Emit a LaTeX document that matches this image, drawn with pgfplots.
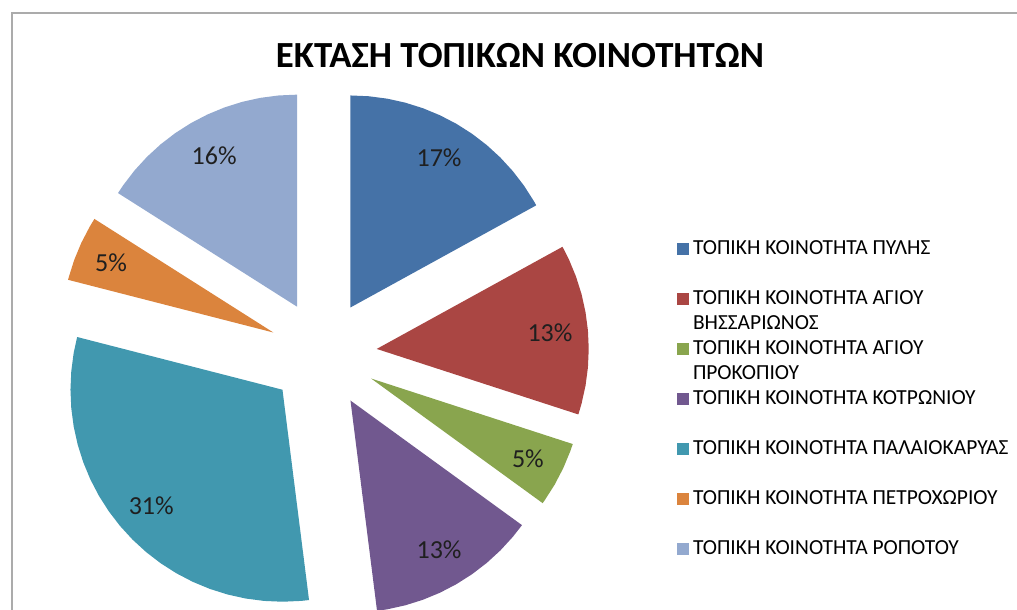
\documentclass[border=0pt]{standalone}
\usepackage{pgfplots}
\pgfplotsset{compat=1.18}
\usepackage{fontspec}
\setmainfont{Carlito}
\definecolor{c1}{HTML}{4572A7}
\definecolor{c2}{HTML}{AA4643}
\definecolor{c3}{HTML}{89A54E}
\definecolor{c4}{HTML}{71588F}
\definecolor{c5}{HTML}{4198AF}
\definecolor{c6}{HTML}{DB843D}
\definecolor{c7}{HTML}{93A9CF}
\definecolor{framegray}{HTML}{ABABAB}
\newcommand{\legtxt}[2]{\parbox[t]{240pt}{\strut #1\\\strut #2}}
\begin{document}
\begin{tikzpicture}
\begin{axis}[
  scale only axis, width=762.75pt, height=457.5pt,
  xmin=-323, xmax=694, ymin=-256, ymax=354,
  hide axis, clip=false,
  legend image code/.code={\fill[#1,draw=none] (0pt,0pt) rectangle (9pt,9pt);},
  legend style={at={(axis cs:354,116.5)}, anchor=north west, draw=none, fill=none,
    inner sep=0pt, outer sep=0pt, row sep=0pt, column sep=3pt,
    cells={anchor=base west}, nodes={inner sep=0pt, text depth=},
    font=\fontsize{16.1}{18.75}\selectfont},
]
% ΠΥΛΗΣ 17%
\addplot[fill=c1, draw=none, data cs=polar, forget plot, xshift=20.6pt, yshift=34.9pt] coordinates {
(0,0) (28.8,212) (30,212) (35,212) (40,212) (45,212) (50,212) (55,212) (60,212) (65,212) (70,212) (75,212) (80,212) (85,212) (90,212)};
% ΑΓΙΟΥ ΒΗΣΣΑΡΙΩΝΟΣ 13%
\addplot[fill=c2, draw=none, data cs=polar, forget plot, xshift=40.3pt, yshift=3.8pt] coordinates {
(0,0) (-18,212) (-15,212) (-10,212) (-5,212) (0,212) (5,212) (10,212) (15,212) (20,212) (25,212) (28.8,212)};
% ΑΓΙΟΥ ΠΡΟΚΟΠΙΟΥ 5%
\addplot[fill=c3, draw=none, data cs=polar, forget plot, xshift=36.1pt, yshift=-18.4pt] coordinates {
(0,0) (-36,212) (-35,212) (-30,212) (-25,212) (-20,212) (-18,212)};
% ΚΟΤΡΩΝΙΟΥ 13%
\addplot[fill=c4, draw=none, data cs=polar, forget plot, xshift=20.6pt, yshift=-34.9pt] coordinates {
(0,0) (-82.8,212) (-80,212) (-75,212) (-70,212) (-65,212) (-60,212) (-55,212) (-50,212) (-45,212) (-40,212) (-36,212)};
% ΠΑΛΑΙΟΚΑΡΥΑΣ 31%
\addplot[fill=c5, draw=none, data cs=polar, forget plot, xshift=-30.4pt, yshift=-26.8pt] coordinates {
(0,0) (-194.4,212) (-190,212) (-185,212) (-180,212) (-175,212) (-170,212) (-165,212) (-160,212) (-155,212) (-150,212) (-145,212) (-140,212) (-135,212) (-130,212) (-125,212) (-120,212) (-115,212) (-110,212) (-105,212) (-100,212) (-95,212) (-90,212) (-85,212) (-82.8,212)};
% ΠΕΤΡΟΧΩΡΙΟΥ 5%
\addplot[fill=c6, draw=none, data cs=polar, forget plot, xshift=-37.2pt, yshift=16.1pt] coordinates {
(0,0) (147.6,212) (150,212) (155,212) (160,212) (165,212) (165.6,212)};
% ΡΟΠΟΤΟΥ 16%
\addplot[fill=c7, draw=none, data cs=polar, forget plot, xshift=-19.5pt, yshift=35.5pt] coordinates {
(0,0) (90,212) (95,212) (100,212) (105,212) (110,212) (115,212) (120,212) (125,212) (130,212) (135,212) (140,212) (145,212) (147.6,212)};
% data labels
\addplot[draw=none, mark=none, forget plot, data cs=polar,
  nodes near coords, point meta=explicit symbolic,
  every node near coord/.append style={anchor=center, inner sep=0pt, text=black!88,
    font=\fontsize{19.5}{22}\selectfont}] coordinates {
(59.4,228) [17\%]
(5.4,228) [13\%]
(-27,230) [5\%]
(-59.4,228) [13\%]
(-138.6,229) [31\%]
(156.6,231) [5\%]
(118.8,226) [16\%]
};
\addlegendimage{fill=c1}\addlegendentry{\legtxt{ΤΟΠΙΚΗ ΚΟΙΝΟΤΗΤΑ ΠΥΛΗΣ}{}}
\addlegendimage{fill=c2}\addlegendentry{\legtxt{ΤΟΠΙΚΗ ΚΟΙΝΟΤΗΤΑ ΑΓΙΟΥ}{ΒΗΣΣΑΡΙΩΝΟΣ}}
\addlegendimage{fill=c3}\addlegendentry{\legtxt{ΤΟΠΙΚΗ ΚΟΙΝΟΤΗΤΑ ΑΓΙΟΥ}{ΠΡΟΚΟΠΙΟΥ}}
\addlegendimage{fill=c4}\addlegendentry{\legtxt{ΤΟΠΙΚΗ ΚΟΙΝΟΤΗΤΑ ΚΟΤΡΩΝΙΟΥ}{}}
\addlegendimage{fill=c5}\addlegendentry{\legtxt{ΤΟΠΙΚΗ ΚΟΙΝΟΤΗΤΑ ΠΑΛΑΙΟΚΑΡΥΑΣ}{}}
\addlegendimage{fill=c6}\addlegendentry{\legtxt{ΤΟΠΙΚΗ ΚΟΙΝΟΤΗΤΑ ΠΕΤΡΟΧΩΡΙΟΥ}{}}
\addlegendimage{fill=c7}\addlegendentry{\legtxt{ΤΟΠΙΚΗ ΚΟΙΝΟΤΗΤΑ ΡΟΠΟΤΟΥ}{}}
\node[font=\bfseries\fontsize{27.6}{30}\selectfont, anchor=base] at (axis cs:197,286) {ΕΚΤΑΣΗ ΤΟΠΙΚΩΝ ΚΟΙΝΟΤΗΤΩΝ};
\draw[color=framegray, line width=1.3pt] (axis cs:-311,-270) -- (axis cs:-311,341) -- (axis cs:710,341);
\end{axis}
\pgfresetboundingbox
\path (current axis.south west) rectangle (current axis.north east);
\end{tikzpicture}
\end{document}
